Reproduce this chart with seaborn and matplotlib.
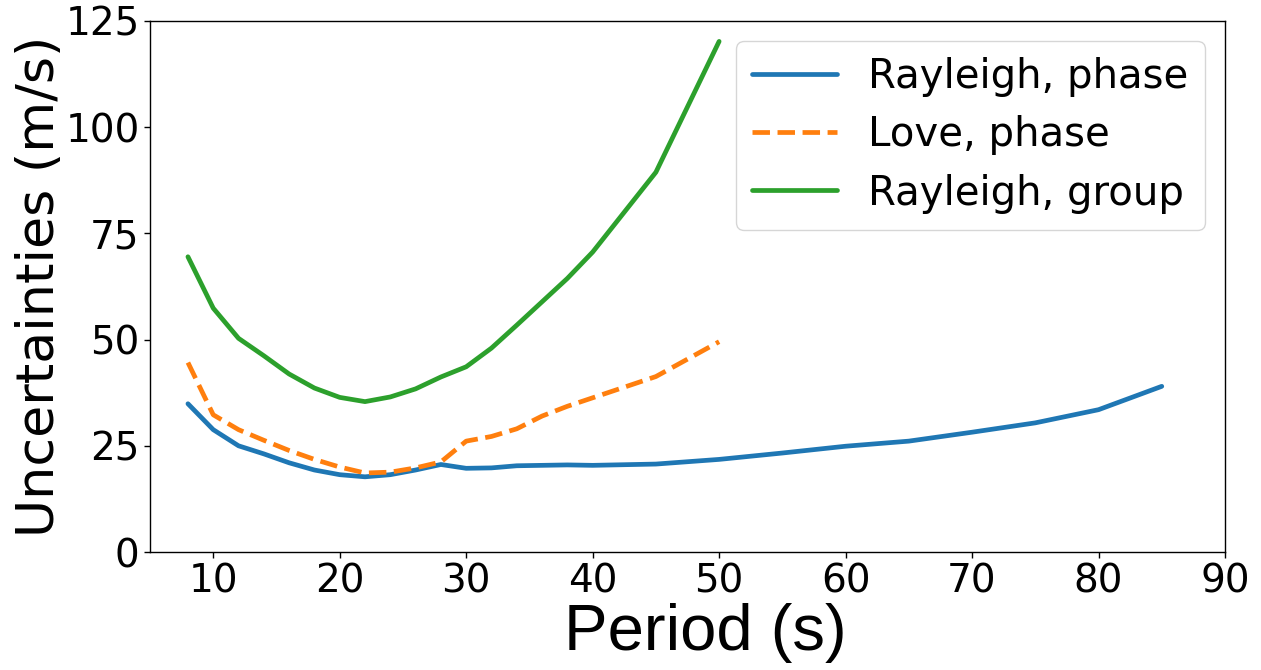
import numpy as np
import pandas as pd
import matplotlib
matplotlib.use("Agg")
import matplotlib.pyplot as plt
import seaborn as sns

# Periods (s)
period_rp = [8, 10, 12, 14, 16, 18, 20, 22, 24, 26, 28, 30, 32, 34, 36, 38, 40,
             45, 50, 55, 60, 65, 70, 75, 80, 85]
rayleigh_phase = [34.9, 28.8, 25.0, 23.1, 21.0, 19.3, 18.2, 17.7, 18.2, 19.3, 20.6,
                  19.7, 19.8, 20.3, 20.4, 20.5, 20.4, 20.7, 21.8, 23.3, 24.9, 26.1,
                  28.2, 30.4, 33.5, 39.0]

period_lp = [8, 10, 12, 14, 16, 18, 20, 22, 24, 26, 28, 30, 32, 34, 36, 38, 40, 45, 50]
love_phase = [44.6, 32.3, 28.8, 26.3, 23.9, 21.8, 20.0, 18.6, 18.8, 19.8, 21.2,
              26.1, 27.2, 29.0, 32.0, 34.3, 36.3, 41.3, 49.5]

period_rg = [8, 10, 12, 14, 16, 18, 20, 22, 24, 26, 28, 30, 32, 34, 36, 38, 40, 45, 50]
rayleigh_group = [69.5, 57.4, 50.3, 46.2, 41.9, 38.6, 36.4, 35.4, 36.5, 38.4, 41.2,
                  43.6, 48.0, 53.4, 58.9, 64.4, 70.6, 89.4, 120.2]

labels = ["Rayleigh, phase", "Love, phase", "Rayleigh, group"]

df = pd.concat([
    pd.DataFrame({"Period": period_rp, "Unc": rayleigh_phase, "series": labels[0]}),
    pd.DataFrame({"Period": period_lp, "Unc": love_phase, "series": labels[1]}),
    pd.DataFrame({"Period": period_rg, "Unc": rayleigh_group, "series": labels[2]}),
], ignore_index=True)

sns.set_style("ticks")
plt.rcParams["font.family"] = ["DejaVu Sans"]
plt.rcParams.update({
    "text.color": "black", "axes.labelcolor": "black",
    "xtick.color": "black", "ytick.color": "black", "axes.edgecolor": "black",
})

fig = plt.figure(figsize=(12.61, 6.70), dpi=100)
ax = fig.add_axes([150 / 1261, 1 - 552 / 670, (1225 - 150) / 1261, (552 - 21) / 670])

palette = {labels[0]: "#1f77b4", labels[1]: "#ff7f0e", labels[2]: "#2ca02c"}
dashes = {labels[0]: "", labels[1]: (3.7, 1.6), labels[2]: ""}
sns.lineplot(data=df, x="Period", y="Unc", hue="series", style="series",
             palette=palette, dashes=dashes, linewidth=3.4, ax=ax, sort=False)

ax.set_xlim(5, 90)
ax.set_ylim(0, 125)
ax.set_xticks([10, 20, 30, 40, 50, 60, 70, 80, 90])
ax.set_yticks([0, 25, 50, 75, 100, 125])
ax.tick_params(labelsize=28, length=4, width=1, colors="black")
for s in ax.spines.values():
    s.set_visible(True)
    s.set_color("black")
    s.set_linewidth(1)

ax.set_xlabel("Period (s)", fontsize=47, family="Liberation Sans", labelpad=2)
ax.xaxis.label.set_x((705 - 150) / 1075)
ax.set_ylabel("Uncertainties (m/s)", fontsize=37.6, labelpad=0.5)

leg = ax.legend(loc="upper right", fontsize=29, handlelength=2.13, handletextpad=0.77,
                labelspacing=0.45, borderpad=0.4, borderaxespad=0.5)
leg.set_title(None)
for line in leg.get_lines():
    line.set_linewidth(3.4)

fig.savefig("out.png", dpi=100)
